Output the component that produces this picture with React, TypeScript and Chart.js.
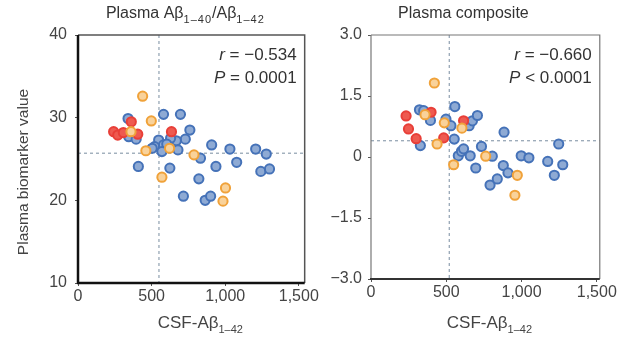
import React, { useEffect, useRef } from "react";
import { Chart, registerables } from "chart.js";
Chart.register(...registerables);

const X_TICKS = [0, 500, 1000, 1500];
const Y_TICKS_LEFT = [10, 20, 30, 40];
const Y_TICKS_RIGHT = [-3, -1.5, 0, 1.5, 3];

const L_BLUE_X = [340,345,395,410,581,696,760,729,668,629,548,520,504,581,603,570,679,624,832,908,937,1032,1078,821,716,864,901,1207,1279,1242,1301];
const L_BLUE_Y = [29.9,27.7,27.4,24.1,30.4,30.4,28.5,27.4,27.2,27.5,27.3,26.5,26.3,26.7,26.8,25.9,26.1,23.9,25.1,26.7,24.1,26.2,24.6,22.6,20.5,20.0,20.5,26.2,25.6,23.5,23.8];
const L_ORANGE_X = [439,498,461,570,788,1002,985,622,360];
const L_ORANGE_Y = [32.6,29.6,26.0,22.8,25.5,21.5,19.9,26.3,28.3];
const L_RED_X = [242,270,308,362,406,635];
const L_RED_Y = [28.3,27.9,28.2,29.5,28.0,28.3];

const R_BLUE_X = [322,350,395,328,498,531,557,553,580,601,615,652,674,707,659,696,734,806,791,839,879,910,884,998,1049,1174,1218,1247,1274];
const R_BLUE_Y = [1.16,1.14,0.90,0.28,0.93,0.77,1.24,0.44,0.03,0.14,0.20,0.77,0.89,1.02,0.03,-0.27,0.26,0.02,-0.69,-0.54,-0.21,-0.39,0.61,0.03,-0.02,-0.11,-0.45,0.32,-0.19];
const R_ORANGE_X = [421,359,439,487,604,549,762,972,956];
const R_ORANGE_Y = [1.82,1.04,0.32,0.84,0.71,-0.19,0.02,-0.45,-0.94];
const R_RED_X = [233,249,300,483,615,399];
const R_RED_Y = [1.01,0.69,0.45,0.47,0.89,1.10];

const L_REF_X = 550;
const L_REF_Y = 25.7;
const R_REF_X = 520;
const R_REF_Y = 0.4;

type Seg = { t: string; sub?: boolean; it?: boolean };
const FONT = "Liberation Sans, Arial, sans-serif";

function rich(ctx: any, x: number, y: number, segs: Seg[], align: string, size: number, subSize: number, color: string, subSpacing = 0) {
  const fontOf = (s: Seg) => `${s.it ? "italic " : ""}${s.sub ? subSize : size}px ${FONT}`;
  const setSp = (s: Seg) => { ctx.letterSpacing = s.sub && subSpacing ? `${subSpacing}px` : "0px"; };
  let w = 0;
  for (const s of segs) { ctx.font = fontOf(s); setSp(s); w += ctx.measureText(s.t).width; }
  let cx = align === "center" ? x - w / 2 : align === "right" ? x - w : x;
  ctx.fillStyle = color;
  ctx.textBaseline = "alphabetic";
  ctx.textAlign = "left";
  for (const s of segs) {
    ctx.font = fontOf(s);
    setSp(s);
    ctx.fillText(s.t, cx, s.sub ? y + size * 0.3 : y);
    cx += ctx.measureText(s.t).width;
  }
  ctx.letterSpacing = "0px";
}

function pts(xs: number[], ys: number[]) { return xs.map((x, i) => ({ x, y: ys[i] })); }

function ds(label: string, data: any[], border: string, fill: string) {
  return { label, data, borderColor: border, backgroundColor: fill, pointRadius: 4.6, pointBorderWidth: 2, showLine: false };
}

function makeConfig(opts: any) {
  const { datasets, xMax, yMin, yMax, yTicks, yFmt, refX, refY, title, ann, yTitle, pad, frameStyle } = opts;
  const plugin = {
    id: "deco",
    beforeDatasetsDraw(chart: any) {
      const { ctx, chartArea: a, scales } = chart;
      ctx.save();
      ctx.strokeStyle = "#8fa0b0";
      ctx.lineWidth = 1.2;
      ctx.setLineDash([3, 3]);
      const px = scales.x.getPixelForValue(refX);
      const py = scales.y.getPixelForValue(refY);
      ctx.beginPath(); ctx.moveTo(px, a.top); ctx.lineTo(px, a.bottom); ctx.stroke();
      ctx.beginPath(); ctx.moveTo(a.left, py); ctx.lineTo(a.right, py); ctx.stroke();
      ctx.restore();
    },
    afterDraw(chart: any) {
      const { ctx, chartArea: a } = chart;
      ctx.save();
      ctx.strokeStyle = frameStyle.top;
      ctx.lineWidth = frameStyle.topW;
      ctx.beginPath(); ctx.moveTo(a.left, a.top); ctx.lineTo(a.right, a.top); ctx.lineTo(a.right, a.bottom); ctx.stroke();
      if (frameStyle.leftThin) {
        ctx.beginPath(); ctx.moveTo(a.left, a.top); ctx.lineTo(a.left, a.bottom); ctx.stroke();
      }
      ctx.strokeStyle = frameStyle.bottom;
      ctx.lineWidth = frameStyle.bottomW;
      ctx.beginPath(); ctx.moveTo(a.left - 1, a.bottom); ctx.lineTo(a.right, a.bottom); ctx.stroke();
      if (!frameStyle.leftThin) {
        ctx.beginPath(); ctx.moveTo(a.left, a.top); ctx.lineTo(a.left, a.bottom + 1); ctx.stroke();
      }
      const cxm = (a.left + a.right) / 2;
      rich(ctx, cxm + opts.titleDx, 18, title, "center", opts.titleSize, 11, "#333", 1);
      rich(ctx, cxm + opts.xTitleDx, 328, [{ t: "CSF-A" }, { t: "β" }, { t: "1–42", sub: true }], "center", 17, 11, "#444");
      rich(ctx, a.right - 8, a.top + 25, ann[0], "right", 17, 11, "#333");
      rich(ctx, a.right - 8, a.top + 48, ann[1], "right", 17, 11, "#333");
      if (yTitle) {
        ctx.translate(28, 172);
        ctx.rotate(-Math.PI / 2);
        rich(ctx, 0, 0, [{ t: yTitle }], "center", 15.5, 10, "#444");
      }
      ctx.restore();
    },
  };
  return {
    type: "scatter",
    data: { datasets },
    plugins: [plugin],
    options: {
      animation: false,
      responsive: false,
      layout: { padding: pad },
      plugins: { legend: { display: false }, tooltip: { enabled: false } },
      scales: {
        x: {
          type: "linear", min: 0, max: xMax,
          afterBuildTicks: (s: any) => { s.ticks = X_TICKS.map((v) => ({ value: v })); },
          afterFit: (s: any) => { s.height = 40; },
          grid: { drawOnChartArea: false, drawTicks: true, tickLength: 3, color: "#555" },
          border: { display: false },
          ticks: { color: "#444", font: { size: 16, family: FONT }, padding: 1, maxRotation: 0, autoSkip: false,
            callback: (v: number) => v.toLocaleString("en-US") },
        },
        y: {
          type: "linear", min: yMin, max: yMax,
          afterBuildTicks: (s: any) => { s.ticks = yTicks.map((v: number) => ({ value: v })); },
          afterFit: (s: any) => { s.width = opts.yWidth; },
          grid: { drawOnChartArea: false, drawTicks: true, tickLength: 3, color: "#555" },
          border: { display: false },
          ticks: { color: "#444", font: { size: 16, family: FONT }, padding: opts.yPad, autoSkip: false, callback: yFmt },
        },
      },
    },
  };
}

function Panel({ config, width, left }: any) {
  const ref = useRef<HTMLCanvasElement>(null);
  useEffect(() => {
    const c = new Chart(ref.current as any, config);
    return () => c.destroy();
  }, []);
  return <canvas ref={ref} width={width} height={338} style={{ position: "absolute", left, top: 0, width, height: 338 }} />;
}

const BLUE = ["#4572b8", "#8eaad4"];
const ORANGE = ["#f0a23a", "#f9d29a"];
const RED = ["#e83f38", "#ee5a50"];

export default function App() {
  const leftCfg = makeConfig({
    datasets: [
      ds("Orange", pts(L_ORANGE_X, L_ORANGE_Y), ORANGE[0], ORANGE[1]),
      ds("Red", pts(L_RED_X, L_RED_Y), RED[0], RED[1]),
      ds("Blue", pts(L_BLUE_X, L_BLUE_Y), BLUE[0], BLUE[1]),
    ],
    xMax: 1540, yMin: 10, yMax: 40, yTicks: Y_TICKS_LEFT,
    yFmt: (v: number) => String(v),
    refX: L_REF_X, refY: L_REF_Y,
    title: [{ t: "Plasma A" }, { t: "β" }, { t: "1–40", sub: true }, { t: "/A" }, { t: "β" }, { t: "1–42", sub: true }],
    titleSize: 16, titleDx: -6, xTitleDx: 9, yPad: 8,
    ann: [[{ t: "r", it: true }, { t: " = −0.534" }], [{ t: "P", it: true }, { t: " = 0.0001" }]],
    yTitle: "Plasma biomarker value",
    yWidth: 78,
    pad: { left: 0, right: 7, top: 35, bottom: 15 },
    frameStyle: { top: "#555", topW: 1.5, bottom: "#111", bottomW: 2.5, leftThin: false },
  });
  const rightCfg = makeConfig({
    datasets: [
      ds("Orange", pts(R_ORANGE_X, R_ORANGE_Y), ORANGE[0], ORANGE[1]),
      ds("Red", pts(R_RED_X, R_RED_Y), RED[0], RED[1]),
      ds("Blue", pts(R_BLUE_X, R_BLUE_Y), BLUE[0], BLUE[1]),
    ],
    xMax: 1520, yMin: -3, yMax: 3, yTicks: Y_TICKS_RIGHT,
    yFmt: (v: number) => (v === 0 ? "0" : (v < 0 ? "−" : "") + Math.abs(v).toFixed(1)),
    refX: R_REF_X, refY: R_REF_Y,
    title: [{ t: "Plasma composite" }],
    titleSize: 16, titleDx: -22, xTitleDx: 4, yPad: 6,
    ann: [[{ t: "r", it: true }, { t: " = −0.660" }], [{ t: "P", it: true }, { t: " < 0.0001" }]],
    yTitle: null,
    yWidth: 51,
    pad: { left: 0, right: 16, top: 35, bottom: 19 },
    frameStyle: { top: "#777", topW: 1.2, bottom: "#333", bottomW: 2, leftThin: true },
  });
  return (
    <div style={{ position: "fixed", left: 0, top: 0, width: 618, height: 338, background: "#fff" }}>
      <Panel config={leftCfg} width={320} left={0} />
      <Panel config={rightCfg} width={298} left={320} />
    </div>
  );
}
